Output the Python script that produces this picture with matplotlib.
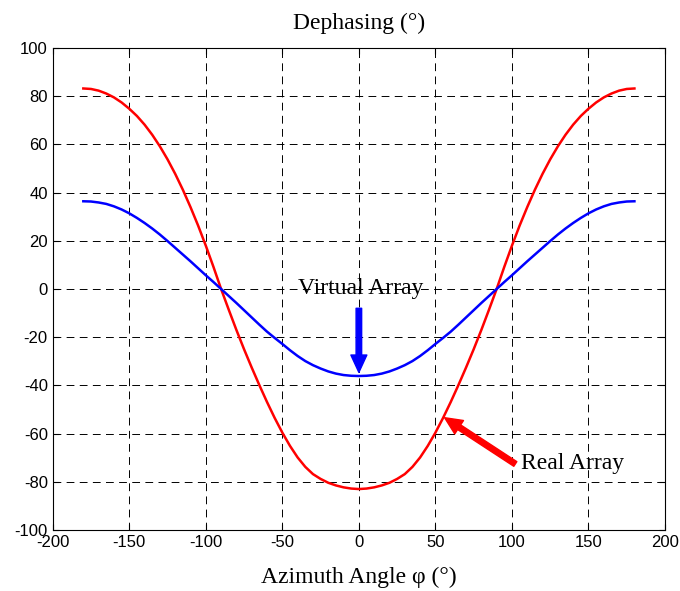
import numpy as np
import matplotlib
matplotlib.use("Agg")
import matplotlib.pyplot as plt

plt.rcParams["axes.unicode_minus"] = False

# azimuth angle (deg), 0..180; curves are symmetric in phi
phi_half = [0, 5, 10, 15, 20, 25, 30, 35, 40, 45, 50, 55, 60, 65, 70, 75, 80, 85,
            90, 95, 100, 105, 110, 115, 120, 125, 130, 135, 140, 145, 150, 155,
            160, 165, 170, 175, 180]
real_half = [-83.0, -82.8, -82.3, -81.5, -80.4, -78.8, -76.8, -73.8, -69.9,
             -65.1, -59.6, -53.5, -46.9, -39.9, -32.6, -25.0, -17.0, -8.6,
             0.0, 9.2, 18.0, 26.3, 34.0, 41.2, 47.8, 53.8, 59.2, 64.0,
             68.2, 71.8, 74.8, 77.4, 79.5, 81.1, 82.3, 83.0, 83.2]
virtual_half = [-36.1, -36.0, -35.7, -35.1, -34.2, -33.0, -31.6, -29.9, -27.8,
                -25.4, -22.8, -20.3, -17.7, -14.8, -11.8, -8.8, -5.8, -2.9,
                0.0, 2.9, 5.7, 8.6, 11.5, 14.3, 17.1, 19.9, 22.6, 25.1,
                27.4, 29.5, 31.4, 33.0, 34.3, 35.3, 35.9, 36.3, 36.4]

azimuth = [-p for p in phi_half[:0:-1]] + phi_half
real_array = real_half[:0:-1] + real_half
virtual_array = virtual_half[:0:-1] + virtual_half

x_ticks = [-200, -150, -100, -50, 0, 50, 100, 150, 200]
y_ticks = [-100, -80, -60, -40, -20, 0, 20, 40, 60, 80, 100]

SERIF = ["Liberation Serif", "DejaVu Serif"]
SANS = ["Liberation Sans", "DejaVu Sans"]

fig = plt.figure(figsize=(6.8, 5.91), dpi=100)
ax = fig.add_axes([0.0775, 0.1032, 0.9005, 0.8156])

ax.plot(azimuth, real_array, color="#ff0000", linewidth=1.8)
ax.plot(azimuth, virtual_array, color="#0000ff", linewidth=1.8)

ax.set_xlim(-200, 200)
ax.set_ylim(-100, 100)
ax.set_xticks(x_ticks)
ax.set_yticks(y_ticks)
ax.grid(True, color="black", linestyle=(0, (8, 5.5)), linewidth=0.7)
ax.tick_params(direction="in", top=True, right=True, length=4, labelsize=12)
for lbl in ax.get_xticklabels() + ax.get_yticklabels():
    lbl.set_family(SANS)
for sp in ax.spines.values():
    sp.set_linewidth(0.8)

ax.set_title("Dephasing (°)", fontsize=17, family=SERIF, pad=14)
ax.set_xlabel("Azimuth Angle φ (°)", fontsize=17, family=SERIF, labelpad=12)

# annotations
ax.text(1, -2, "Virtual Array", fontsize=17, family=SERIF,
        ha="center", va="baseline")
ax.annotate("", xy=(0, -34.6), xytext=(0, -8),
            arrowprops=dict(facecolor="#0000ff", edgecolor="#0000ff",
                            width=4, headwidth=11.5, headlength=12.5, shrink=0))
ax.text(106, -74.5, "Real Array", fontsize=17, family=SERIF,
        ha="left", va="baseline")
ax.annotate("", xy=(56, -53.4), xytext=(102.2, -72.6),
            arrowprops=dict(facecolor="#ff0000", edgecolor="#ff0000",
                            width=4, headwidth=11.5, headlength=12.5, shrink=0))

fig.savefig("out.png", dpi=100)
